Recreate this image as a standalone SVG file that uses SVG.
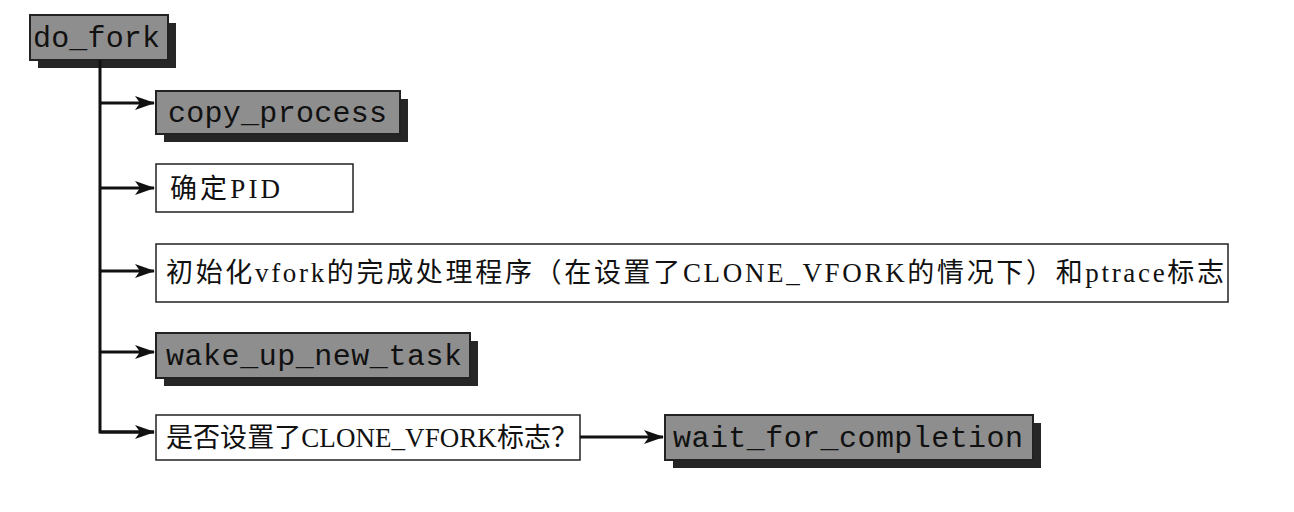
<svg xmlns="http://www.w3.org/2000/svg" width="1294" height="512" viewBox="0 0 1294 512">
<defs>
<marker id="ah" markerWidth="20" markerHeight="14" refX="19" refY="7" orient="auto" markerUnits="userSpaceOnUse"><path d="M0,0 L20,7 L0,14 L5,7 Z" fill="#111"/></marker>
</defs>
<style>
.sh{fill:#262626}
.g{fill:#8e8e8e;stroke:#222;stroke-width:2}
.w{fill:#fff;stroke:#222;stroke-width:1.5}
.code{font-family:"Liberation Mono",monospace;font-size:30px;fill:#111}
.cn{font-family:"Liberation Serif","Noto Sans CJK SC",serif;font-size:27px;fill:#111}
.ln{stroke:#111;stroke-width:3;fill:none}
</style>
<rect width="1294" height="512" fill="#fff"/>
<g id="do_fork"><rect class="sh" x="38" y="23" width="138" height="45"/><rect class="g" x="30" y="15" width="138" height="45"/><text class="code" x="33" y="47" textLength="127">do_fork</text></g>
<g id="copy_process"><rect class="sh" x="164" y="99" width="244" height="43"/><rect class="g" x="156" y="91" width="244" height="43"/><text class="code" x="168" y="122" textLength="219">copy_process</text></g>
<g id="pid"><rect class="w" x="156" y="164" width="197" height="48"/><text class="cn" x="170" y="198" textLength="110">确定PID</text></g>
<g id="init"><rect class="w" x="156" y="244" width="1072" height="58"/><text class="cn" x="166" y="282" textLength="1058">初始化vfork的完成处理程序（在设置了CLONE_VFORK的情况下）和ptrace标志</text></g>
<g id="wake"><rect class="sh" x="164" y="341" width="314" height="45"/><rect class="g" x="156" y="333" width="314" height="45"/><text class="code" x="166" y="365" textLength="296">wake_up_new_task</text></g>
<g id="check"><rect class="w" x="156" y="415" width="424" height="45"/><text class="cn" x="166" y="447" textLength="412">是否设置了CLONE_VFORK标志？</text></g>
<g id="wait"><rect class="sh" x="673" y="423" width="368" height="45"/><rect class="g" x="665" y="415" width="368" height="45"/><text class="code" x="673" y="447" textLength="350">wait_for_completion</text></g>
<g id="connectors">
<path class="ln" d="M100,60 V432 H154"/>
<path class="ln" d="M100,103 H154" marker-end="url(#ah)"/>
<path class="ln" d="M100,188 H154" marker-end="url(#ah)"/>
<path class="ln" d="M100,271 H154" marker-end="url(#ah)"/>
<path class="ln" d="M100,352 H154" marker-end="url(#ah)"/>
<path class="ln" d="M100,432 H154" marker-end="url(#ah)"/>
<path class="ln" d="M580,437 H663" marker-end="url(#ah)"/>
</g>
</svg>
